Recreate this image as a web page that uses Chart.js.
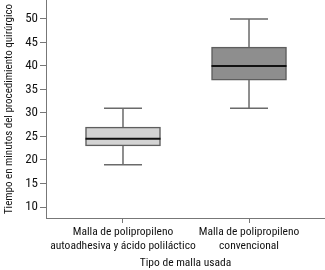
<!DOCTYPE html>
<html><head><meta charset="utf-8">
<script src="https://cdn.jsdelivr.net/npm/chart.js@4/dist/chart.umd.min.js"></script>
<style>html,body{margin:0;padding:0;background:#fff}#w{width:325px;height:270px}</style>
</head><body><div id="w"><canvas id="c" width="325" height="270"></canvas></div>
<script>
const categories = [["Malla de polipropileno","autoadhesiva y ácido poliláctico"],["Malla de polipropileno","convencional"]];
const whiskerMin = [19, 31];
const q1 = [23, 37];
const median = [24.5, 40];
const q3 = [27, 44];
const whiskerMax = [31, 50];
const yTicks = [10, 15, 20, 25, 30, 35, 40, 45, 50];
const fills = ['#d3d3d3', '#8e8e8e'];

const FONT = "'Roboto Condensed','Liberation Sans',Arial,sans-serif";

const boxPlugin = {
  id: 'boxParts',
  afterDatasetsDraw(chart) {
    const ctx = chart.ctx, xs = chart.scales.x, ys = chart.scales.y;
    ctx.save();
    for (let i = 0; i < categories.length; i++) {
      const cx = xs.getPixelForValue(i);
      const half = 19;
      ctx.strokeStyle = '#6a6a6a'; ctx.lineWidth = 1.5;
      ctx.beginPath();
      ctx.moveTo(cx, ys.getPixelForValue(q3[i])); ctx.lineTo(cx, ys.getPixelForValue(whiskerMax[i]));
      ctx.moveTo(cx, ys.getPixelForValue(q1[i])); ctx.lineTo(cx, ys.getPixelForValue(whiskerMin[i]));
      ctx.moveTo(cx - half, ys.getPixelForValue(whiskerMax[i])); ctx.lineTo(cx + half, ys.getPixelForValue(whiskerMax[i]));
      ctx.moveTo(cx - half, ys.getPixelForValue(whiskerMin[i])); ctx.lineTo(cx + half, ys.getPixelForValue(whiskerMin[i]));
      ctx.stroke();
      const meta = chart.getDatasetMeta(0).data[i];
      const w = meta.width;
      ctx.strokeStyle = '#111'; ctx.lineWidth = 2;
      ctx.beginPath();
      ctx.moveTo(cx - w/2, ys.getPixelForValue(median[i])); ctx.lineTo(cx + w/2, ys.getPixelForValue(median[i]));
      ctx.stroke();
    }
    ctx.restore();
  }
};

new Chart(document.getElementById('c'), {
  type: 'bar',
  data: {
    datasets: [{
      data: categories.map((c, i) => ({x: i, y: [q1[i], q3[i]]})),
      backgroundColor: fills,
      borderColor: '#5e5e5e',
      borderWidth: 1.5,
      borderSkipped: false,
      barThickness: 75
    }]
  },
  options: {
    responsive: false,
    animation: false,
    events: [],
    layout: {padding: 0},
    plugins: {legend: {display: false}, tooltip: {enabled: false}},
    scales: {
      x: {
        type: 'linear', min: -0.611, max: 1.603, offset: false,
        afterBuildTicks(s) { s.ticks = categories.map((c, i) => ({value: i})); },
        afterFit(s) { s.height = 52; s.paddingLeft = 0; s.paddingRight = 0; },
        ticks: {
          callback: (v) => categories[v],
          color: '#111', font: {family: FONT, size: 11.5, lineHeight: 1.15}, padding: 3, maxRotation: 0, autoSkip: false
        },
        grid: {drawOnChartArea: false, drawTicks: true, tickLength: 5, color: '#777', offset: false},
        border: {display: true, color: '#777', width: 1},
        title: {display: true, text: 'Tipo de malla usada', color: '#111', font: {family: FONT, size: 11.5}, padding: {top: 0, bottom: 0}}
      },
      y: {
        min: 7.66, max: 54.04,
        afterBuildTicks(s) { s.ticks = yTicks.map(v => ({value: v})); },
        afterFit(s) { s.width = 46; s.paddingTop = 0; s.paddingBottom = 0; },
        ticks: {color: '#111', font: {family: FONT, size: 13}, padding: 2},
        grid: {drawOnChartArea: false, drawTicks: true, tickLength: 6, color: '#777'},
        border: {display: true, color: '#777', width: 1},
        title: {display: true, text: 'Tiempo en minutos del procedimiento quirúrgico', color: '#111', font: {family: FONT, size: 11}, padding: {top: 3, bottom: 0}}
      }
    }
  },
  plugins: [boxPlugin]
});
</script></body></html>
